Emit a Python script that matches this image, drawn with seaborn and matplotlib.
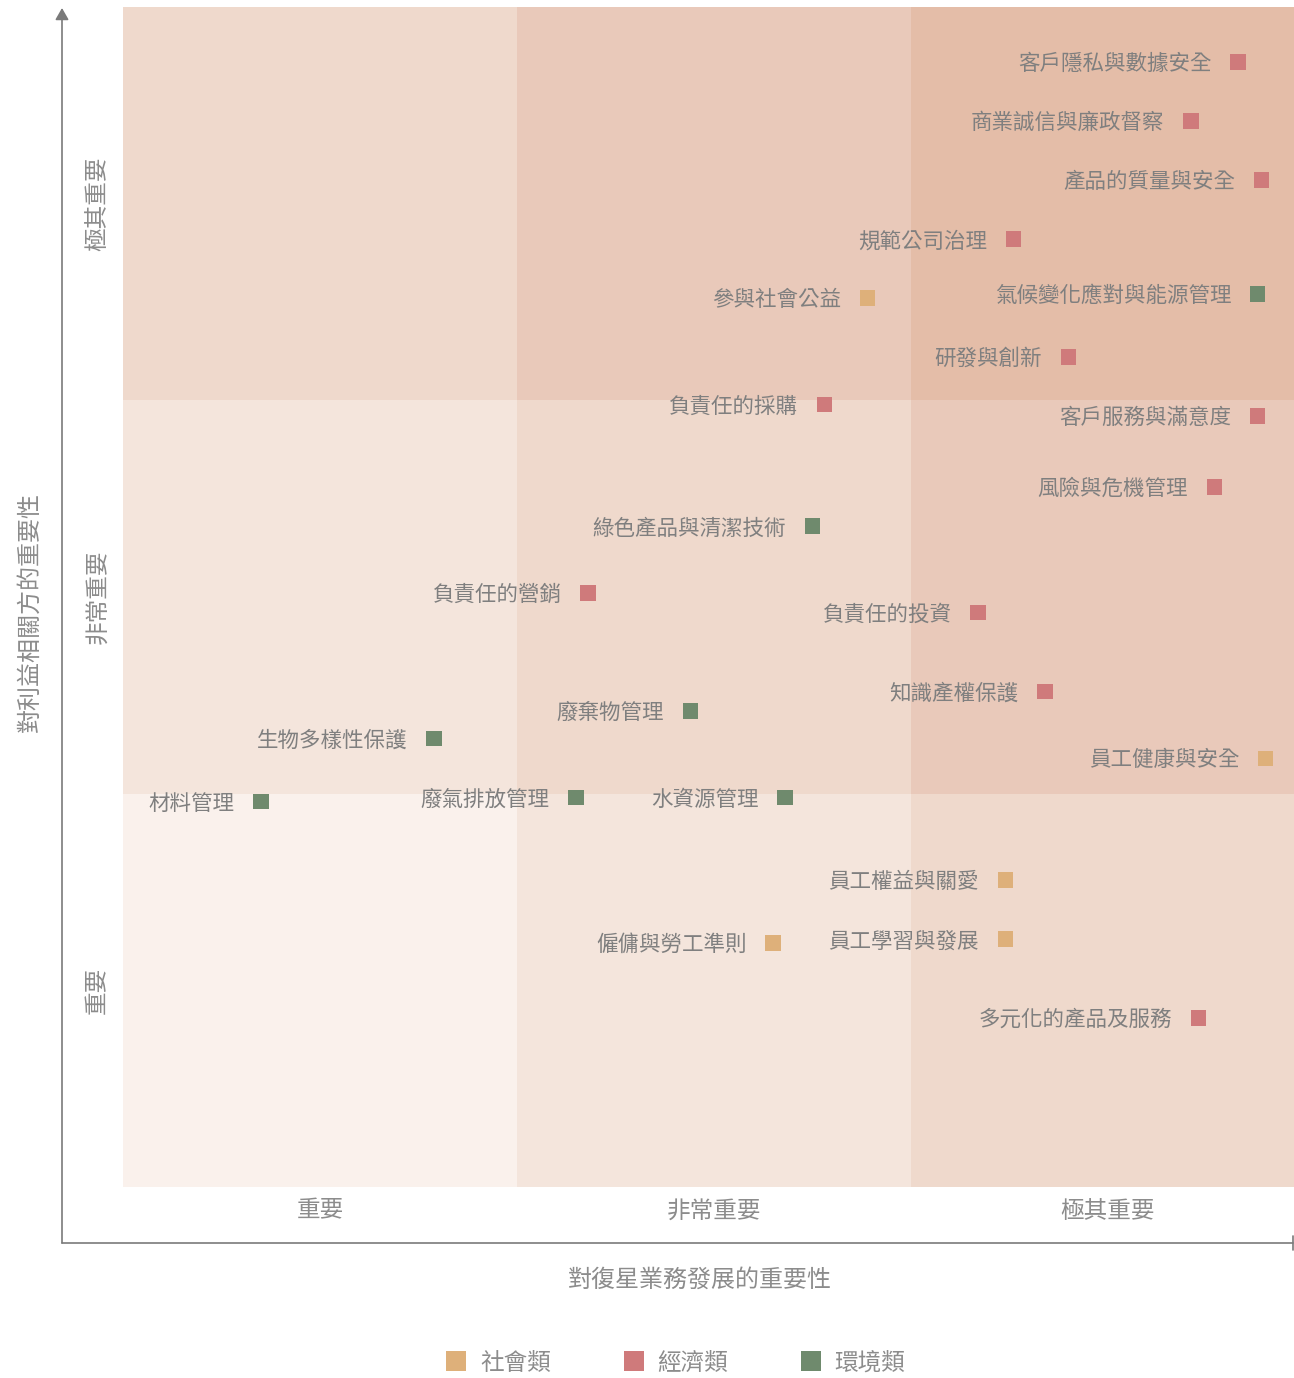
import numpy as np
import pandas as pd
import seaborn as sns
import matplotlib.pyplot as plt
from matplotlib.patches import Rectangle
from matplotlib.lines import Line2D

sns.set_style("white")
plt.rcParams["font.family"] = ["Noto Sans CJK TC", "DejaVu Sans"]

# data
topics = [
    "客戶隱私與數據安全", "商業誠信與廉政督察", "產品的質量與安全", "規範公司治理",
    "參與社會公益", "氣候變化應對與能源管理", "研發與創新", "負責任的採購",
    "客戶服務與滿意度", "風險與危機管理", "綠色產品與清潔技術", "負責任的營銷",
    "負責任的投資", "知識產權保護", "廢棄物管理", "生物多樣性保護",
    "員工健康與安全", "材料管理", "廢氣排放管理", "水資源管理",
    "員工權益與關愛", "僱傭與勞工準則", "員工學習與發展", "多元化的產品及服務",
]
business = [2.83, 2.71, 2.89, 2.26, 1.89, 2.88, 2.40, 1.78,
            2.88, 2.77, 1.75, 1.18, 2.17, 2.34, 1.44, 0.79,
            2.90, 0.35, 1.15, 1.68, 2.24, 1.65, 2.24, 2.73]
stakeholder = [2.86, 2.71, 2.56, 2.41, 2.26, 2.27, 2.11, 1.99,
               1.96, 1.78, 1.68, 1.51, 1.46, 1.26, 1.21, 1.14,
               1.09, 0.98, 0.99, 0.99, 0.78, 0.62, 0.63, 0.43]
category = ["經濟類", "經濟類", "經濟類", "經濟類", "社會類", "環境類", "經濟類", "經濟類",
            "經濟類", "經濟類", "環境類", "經濟類", "經濟類", "經濟類", "環境類", "環境類",
            "社會類", "環境類", "環境類", "環境類", "社會類", "社會類", "社會類", "經濟類"]
cat_order = ["社會類", "經濟類", "環境類"]
cat_colors = ["#DEB07A", "#CF7A7B", "#6F8A6D"]
levels = ["重要", "非常重要", "極其重要"]
shades = ["#FAF1EC", "#F4E5DC", "#EFD9CC", "#E9C9BA", "#E4BDA8"]

df = pd.DataFrame({"topic": topics, "x": business, "y": stakeholder, "cat": category})

W, H = 1294, 1378
fig = plt.figure(figsize=(W / 100, H / 100), dpi=100)
ax = fig.add_axes([123 / W, (H - 1187) / H, (1294 - 123) / W, (1187 - 7) / H])

# background grid of importance
for i in range(3):
    for j in range(3):
        ax.add_patch(Rectangle((i, j), 1, 1, color=shades[i + j], lw=0, zorder=0))

sns.scatterplot(data=df, x="x", y="y", hue="cat", hue_order=cat_order,
                palette=cat_colors, marker="s", s=125, linewidth=0, ax=ax, zorder=3)

txt = "#7F7F7F"
for t, x, y in zip(topics, business, stakeholder):
    ax.annotate(t, (x, y), xytext=(-19, -1.5), textcoords="offset points",
                ha="right", va="center", fontsize=15.5, color=txt)

ax.set_xlim(0, 1171 / 394)
ax.set_ylim(0, 3)
sns.despine(ax=ax, left=True, bottom=True)
ax.set_xticks([0.5, 1.5, 2.5], levels, fontsize=17, color="#8C8C8C")
ax.set_yticks([0.5, 1.5, 2.5], levels, fontsize=17, color="#8C8C8C",
              rotation=90, va="center")
ax.tick_params(length=0)
ax.tick_params(axis="x", pad=9)
ax.tick_params(axis="y", pad=10)
ax.set_xlabel("")
ax.set_ylabel("")

fig.text(700 / W, (H - 1280) / H, "對復星業務發展的重要性", ha="center", va="center",
         fontsize=17.3, color="#8C8C8C")
fig.text(30 / W, (H - 612) / H, "對利益相關方的重要性", ha="center", va="center",
         rotation=90, fontsize=17.3, color="#8C8C8C")

# axis lines with arrow
axc = "#7A7A7A"
fig.add_artist(Line2D([62 / W, 1293 / W], [(H - 1243) / H] * 2, color=axc, lw=1.2))
fig.add_artist(Line2D([1293 / W] * 2, [(H - 1250) / H, (H - 1236) / H], color=axc, lw=1.2))
ax.annotate("", xy=(62, H - 8), xytext=(62, H - 1243), xycoords="figure pixels",
            textcoords="figure pixels", annotation_clip=False,
            arrowprops=dict(arrowstyle="-|>,head_length=0.7,head_width=0.4",
                            color=axc, lw=1.2, shrinkA=0, shrinkB=0))

sns.move_legend(ax, "center", bbox_to_anchor=(669 / W, (H - 1363) / H),
                bbox_transform=fig.transFigure, ncol=3, frameon=False, title=None,
                fontsize=17, columnspacing=2.5, handletextpad=0.0, markerscale=1.3)
for t in ax.get_legend().get_texts():
    t.set_color("#8C8C8C")

fig.savefig("out.png", dpi=100)
